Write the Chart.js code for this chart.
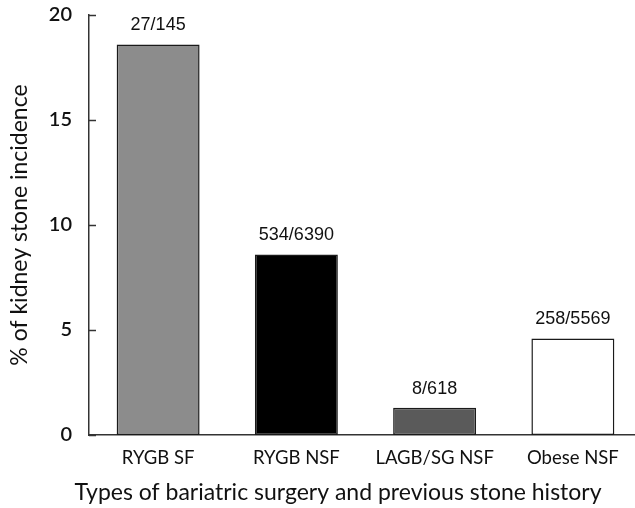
<!DOCTYPE html>
<html>
<head>
<meta charset="utf-8">
<script src="https://cdn.jsdelivr.net/npm/chart.js@4/dist/chart.umd.min.js"></script>
<style>
  html, body { margin: 0; padding: 0; background: #fff; }
  #wrap { width: 635px; height: 508px; overflow: hidden; position: relative; }
  #wrap canvas { position: absolute; left: 0; top: 0; }
</style>
</head>
<body>
<div id="wrap"><canvas id="chart" width="642" height="508"></canvas></div>
<script>
// data
const categories = ['RYGB SF', 'RYGB NSF', 'LAGB/SG NSF', 'Obese NSF'];
const incidence = [18.6, 8.6, 1.3, 4.6];
const counts = ['27/145', '534/6390', '8/618', '258/5569'];
const yTicks = [0, 5, 10, 15, 20];
const xTitle = 'Types of bariatric surgery and previous stone history';

const fills = ['#8c8c8c', '#000000', '#5a5a5a', '#ffffff'];

// bar count labels above each bar
const countLabels = {
  id: 'countLabels',
  afterDatasetsDraw(chart) {
    const ctx = chart.ctx;
    const meta = chart.getDatasetMeta(0);
    ctx.save();
    ctx.font = '18px "Liberation Sans", Arial, sans-serif';
    ctx.fillStyle = '#111';
    ctx.textAlign = 'center';
    ctx.textBaseline = 'alphabetic';
    meta.data.forEach((bar, i) => {
      ctx.fillText(counts[i], bar.x, bar.y - 14);
    });
    ctx.restore();
  }
};

// short inward tick marks on the y axis + x axis title (centred on the visible figure)
const extras = {
  id: 'extras',
  afterDraw(chart) {
    const ctx = chart.ctx;
    const y = chart.scales.y;
    ctx.save();
    ctx.strokeStyle = '#333';
    ctx.lineWidth = 1.5;
    yTicks.forEach(v => {
      const py = Math.round(y.getPixelForValue(v)) + 0.5;
      ctx.beginPath();
      ctx.moveTo(y.right, py);
      ctx.lineTo(y.right + 7, py);
      ctx.stroke();
    });
    ctx.font = '23px Lato, "Open Sans", sans-serif';
    ctx.fillStyle = '#111';
    ctx.textAlign = 'center';
    ctx.textBaseline = 'middle';
    ctx.fillText(xTitle, 338, 493);
    ctx.restore();
  }
};

new Chart(document.getElementById('chart'), {
  type: 'bar',
  data: {
    labels: categories,
    datasets: [{
      data: incidence,
      backgroundColor: fills,
      borderColor: '#1a1a1a',
      borderWidth: 1.5,
      borderSkipped: false,
      categoryPercentage: 1.0,
      barPercentage: 0.6
    }]
  },
  options: {
    responsive: false,
    animation: false,
    layout: { padding: { top: 15, right: 0, bottom: 0, left: 0 } },
    plugins: {
      legend: { display: false },
      tooltip: { enabled: false }
    },
    scales: {
      x: {
        grid: { display: false, drawTicks: false },
        border: { display: true, color: '#333', width: 1.5 },
        ticks: {
          padding: 12,
          color: '#111',
          font: { family: 'Lato, "Open Sans", sans-serif', size: 18.5 }
        },
        afterFit(scale) { scale.height = 73; scale.paddingLeft = 0; scale.paddingRight = 0; }
      },
      y: {
        min: 0,
        max: 20,
        afterBuildTicks(scale) { scale.ticks = yTicks.map(v => ({ value: v })); },
        grid: { display: false, drawTicks: false },
        border: { display: true, color: '#333', width: 1.5 },
        ticks: {
          padding: 17,
          color: '#111',
          font: { family: 'Lato, "Open Sans", sans-serif', size: 20, weight: '600' }
        },
        title: {
          display: true,
          text: '% of kidney stone incidence',
          color: '#111',
          font: { family: 'Lato, "Open Sans", sans-serif', size: 23 },
          padding: { top: 6, bottom: 0 }
        },
        afterFit(scale) { scale.width = 89; scale.paddingTop = 0; scale.paddingBottom = 0; }
      }
    }
  },
  plugins: [countLabels, extras]
});
</script>
</body>
</html>
